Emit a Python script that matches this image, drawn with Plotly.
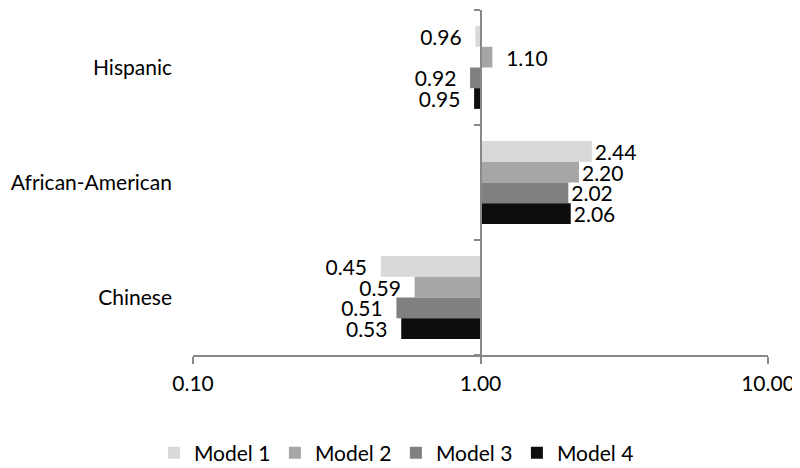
import plotly.graph_objects as go

categories = ["Hispanic", "African-American", "Chinese"]
models = ["Model 1", "Model 2", "Model 3", "Model 4"]
values = {
    "Model 1": [0.96, 2.44, 0.45],
    "Model 2": [1.10, 2.20, 0.59],
    "Model 3": [0.92, 2.02, 0.51],
    "Model 4": [0.95, 2.06, 0.53],
}
colors = ["#d9d9d9", "#a6a6a6", "#808080", "#0d0d0d"]
baseline = 1.0
x_ticks = [0.1, 1, 10]
x_tick_labels = ["0.10", "1.00", "10.00"]

FONT = "Lato"
FS = 21
NB = "\u00a0"


def label(v):
    s = f"{v:.2f}"
    if v < baseline:
        return s + NB * 2
    if v < 1.5:
        return NB * 2 + s
    return s


fig = go.Figure()
for m, c in zip(models, colors):
    vals = values[m]
    fig.add_trace(go.Bar(
        y=categories,
        x=[v - baseline for v in vals],
        base=[baseline] * len(vals),
        orientation="h",
        name=m,
        marker=dict(color=c, line=dict(width=0)),
        text=[label(v) for v in vals],
        textposition="outside",
        constraintext="none",
        textfont=dict(size=FS, color="#000000", family=FONT),
        cliponaxis=False,
    ))

# page body has an 8px margin; size the figure so it fills the 800x468 window
fig.update_layout(
    width=792, height=460,
    margin=dict(l=185, r=32, t=2, b=113, autoexpand=False),
    paper_bgcolor="white", plot_bgcolor="white",
    barmode="group", bargap=0.28, bargroupgap=0.0,
    font=dict(family=FONT, size=FS, color="#000000"),
    showlegend=True,
    legend=dict(orientation="h", x=-0.068, xanchor="left", y=-0.225, yanchor="top",
                font=dict(size=FS, family=FONT), traceorder="normal",
                itemwidth=30, entrywidth=76, entrywidthmode="pixels"),
    xaxis=dict(type="log", range=[-1, 1], tickvals=x_ticks, ticktext=x_tick_labels,
               showgrid=False, zeroline=False, showline=True, linecolor="#888888",
               linewidth=2, ticks="outside", ticklen=7, tickwidth=2, tickcolor="#888888",
               ticklabelstandoff=2, tickfont=dict(size=FS)),
    yaxis=dict(type="category", categoryorder="array", categoryarray=categories,
               autorange="reversed", showgrid=False, zeroline=False, showline=False,
               ticks="", ticklabelstandoff=20, tickfont=dict(size=FS)),
    yaxis2=dict(overlaying="y", anchor="free", position=0.5, side="left",
                range=[2.5, -0.5], tickvals=[-0.5, 0.5, 1.5, 2.5],
                showticklabels=False, showgrid=False, zeroline=False,
                showline=True, linecolor="#888888", linewidth=2,
                ticks="outside", ticklen=6, tickwidth=2, tickcolor="#888888"),
)
# invisible trace to activate yaxis2
fig.add_trace(go.Scatter(x=[1], y=[0], yaxis="y2", mode="markers",
                         marker=dict(opacity=0), showlegend=False, hoverinfo="skip"))

fig.write_html("out.html")
